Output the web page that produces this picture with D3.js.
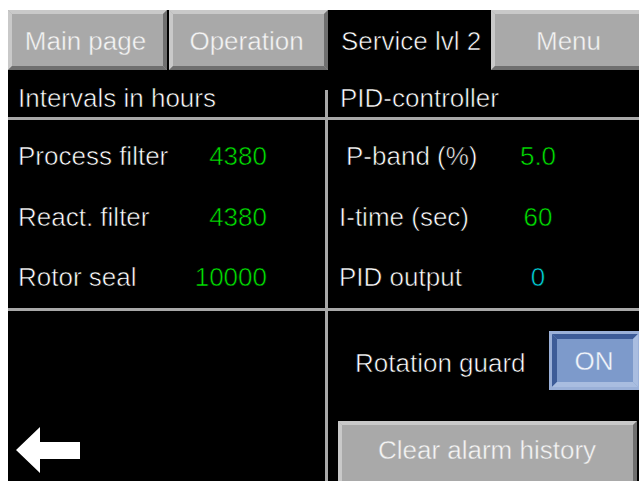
<!DOCTYPE html>
<html>
<head>
<meta charset="utf-8">
<script src="https://cdn.jsdelivr.net/npm/d3@7"></script>
<style>
  body { margin: 0; background: #fff; }
  svg { display: block; }
  text { font-family: "Liberation Sans", Arial, sans-serif; font-size: 26px; stroke: #000; stroke-width: 0.6px; }
  .on-gray { stroke: #a9a9a9; stroke-width: 0.4px; }
  .on-blue { stroke: #7d9acb; stroke-width: 0.4px; }
</style>
</head>
<body>
<div id="screen"></div>
<script>
var svgWidth = 639;
var svgHeight = 481;

// screen data
var tabs = ["Main page", "Operation", "Service lvl 2", "Menu"];
var activeTab = "Service lvl 2";

var intervalLabels = ["Process filter", "React. filter", "Rotor seal"];
var intervalValues = [4380, 4380, 10000];

var pidLabels = ["P-band (%)", "I-time (sec)", "PID output"];
var pidValues = ["5.0", "60", "0"];
var pidColors = ["#00e400", "#00e400", "#00d4dc"];

var svg = d3.select("#screen")
  .append("svg")
  .attr("width", svgWidth)
  .attr("height", svgHeight);

// white bezel + black panel
svg.append("rect").attr("width", svgWidth).attr("height", svgHeight).attr("fill", "#fff").attr("stroke", "none");
svg.append("rect").attr("x", 8).attr("y", 10)
  .attr("width", svgWidth - 8).attr("height", svgHeight - 10).attr("fill", "#000");

// draws a bevelled button
function bevel(g, x, y, w, h, b, fill, light, dark) {
  g.append("rect").attr("x", x).attr("y", y).attr("width", w).attr("height", h).attr("fill", fill);
  var pts = [
    [[x, y], [x + w, y], [x + w - b, y + b], [x + b, y + b], light],
    [[x, y], [x + b, y + b], [x + b, y + h - b], [x, y + h], light],
    [[x + w, y], [x + w, y + h], [x + w - b, y + h - b], [x + w - b, y + b], dark],
    [[x, y + h], [x + w, y + h], [x + w - b, y + h - b], [x + b, y + h - b], dark]
  ];
  pts.forEach(function(p) {
    g.append("polygon")
      .attr("points", p.slice(0, 4).map(function(d) { return d.join(","); }).join(" "))
      .attr("fill", p[4]);
  });
}

// tab bar
var tabScale = d3.scaleBand().domain(tabs).range([8, 652]);
var tabTop = 10, tabH = 60;

var tabGroup = svg.append("g");
tabs.forEach(function(t) {
  var x = tabScale(t);
  var w = tabScale.bandwidth() - 2;
  if (t !== activeTab) {
    bevel(tabGroup, x, tabTop, w, tabH, 4, "#a9a9a9", "#c9c9c9", "#6f6f6f");
  }
  tabGroup.append("text")
    .attr("class", t === activeTab ? null : "on-gray")
    .attr("x", t === activeTab ? x + 11 : x + w / 2 - 2)
    .attr("y", 50)
    .attr("text-anchor", t === activeTab ? "start" : "middle")
    .attr("fill", t === activeTab ? "#ffffff" : "#f4f4f4")
    .text(t);
});

// divider lines
var lineColor = "#a8a8a8";
svg.append("rect").attr("x", 8).attr("y", 117).attr("width", svgWidth - 8).attr("height", 3).attr("fill", lineColor);
svg.append("rect").attr("x", 8).attr("y", 308).attr("width", svgWidth - 8).attr("height", 3).attr("fill", lineColor);
svg.append("rect").attr("x", 325).attr("y", 90).attr("width", 3).attr("height", svgHeight - 90).attr("fill", lineColor);

// section headers
svg.append("text").attr("x", 18).attr("y", 107).attr("fill", "#ffffff").text("Intervals in hours");
svg.append("text").attr("x", 340).attr("y", 107).attr("fill", "#ffffff").text("PID-controller");

// rows
var rowY = d3.scalePoint().domain([0, 1, 2]).range([165, 286]);

var left = svg.append("g");
left.selectAll(".lbl").data(intervalLabels).enter().append("text")
  .attr("x", 18).attr("y", function(d, i) { return rowY(i); })
  .attr("fill", "#ffffff").text(function(d) { return d; });
left.selectAll(".val").data(intervalValues).enter().append("text")
  .attr("x", 267).attr("y", function(d, i) { return rowY(i); })
  .attr("text-anchor", "end").attr("fill", "#00e400")
  .text(function(d) { return d; });

var right = svg.append("g");
right.selectAll(".lbl").data(pidLabels).enter().append("text")
  .attr("x", function(d, i) { return i === 0 ? 346 : 339; })
  .attr("y", function(d, i) { return rowY(i); })
  .attr("fill", "#ffffff").text(function(d) { return d; });
right.selectAll(".val").data(pidValues).enter().append("text")
  .attr("x", 538).attr("y", function(d, i) { return rowY(i); })
  .attr("text-anchor", "middle")
  .attr("fill", function(d, i) { return pidColors[i]; })
  .text(function(d) { return d; });

// rotation guard
svg.append("text").attr("x", 355).attr("y", 372).attr("fill", "#ffffff").text("Rotation guard");
var onBtn = svg.append("g");
onBtn.append("rect").attr("x", 549).attr("y", 331).attr("width", 92).attr("height", 59).attr("fill", "#9ab0d8");
bevel(onBtn, 552, 334, 86, 53, 5, "#7d9acb", "#3d5c98", "#a9bde0");
onBtn.append("text").attr("class", "on-blue").attr("x", 594).attr("y", 370).attr("text-anchor", "middle")
  .attr("fill", "#f2f5fb").text("ON");

// clear alarm history button
var clr = svg.append("g");
bevel(clr, 338, 421, 299, 70, 4, "#a9a9a9", "#c9c9c9", "#6f6f6f");
clr.append("text").attr("class", "on-gray").attr("x", 487).attr("y", 459).attr("text-anchor", "middle")
  .attr("fill", "#f4f4f4").text("Clear alarm history");

// back arrow
svg.append("path")
  .attr("d", "M16,450 L40,427 L40,442 L80,442 L80,459 L40,459 L40,473 Z")
  .attr("fill", "#fff").attr("stroke", "none");
</script>
</body>
</html>
